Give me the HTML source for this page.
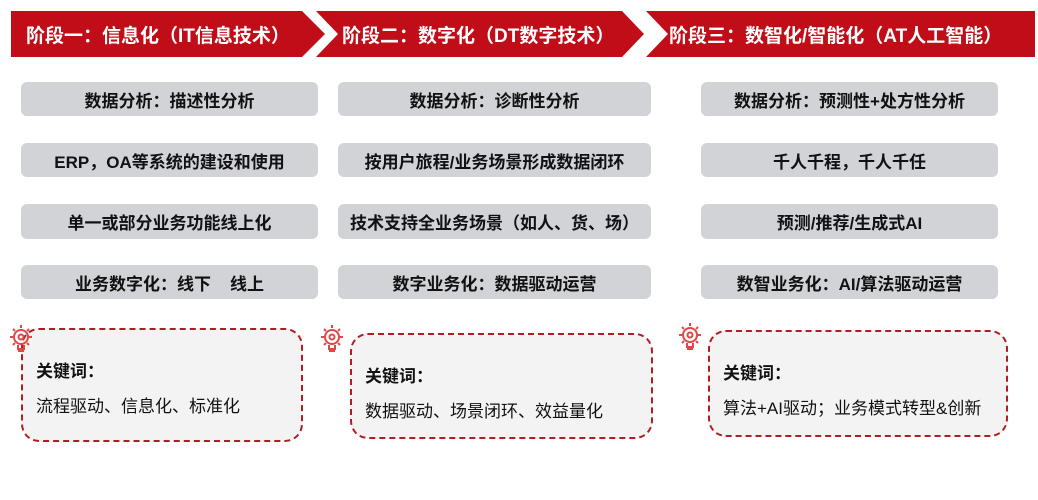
<!DOCTYPE html><html><head><meta charset="utf-8"><style>
body{margin:0;width:1038px;height:500px;background:#fff;position:relative;overflow:hidden;font-family:"Liberation Sans","Noto Sans CJK SC",sans-serif}
.b{position:absolute;background:#d1d3d6;border-radius:6px;display:flex;align-items:center;justify-content:center;font-size:17px;font-weight:bold;color:#111}
.k{position:absolute;border:2px dashed #b01d25;border-radius:18px;background:#f3f3f4;box-sizing:border-box;padding:27px 0 0 13px;font-size:17px;color:#111}
.k b{display:block;margin-bottom:10px}
.t{position:absolute;color:#fff;font-weight:bold;font-size:19px;top:21px}
.ic{position:absolute}
</style></head><body>
<svg width="1038" height="60" style="position:absolute;left:0;top:0">
<polygon points="11,11 302,11 325,34 302,57 11,57" fill="#c00d18"/>
<polygon points="316,11 622,11 644,34 622,57 316,57 338,34" fill="#c00d18"/>
<polygon points="646,11 1035,11 1035,57 646,57 668,34" fill="#c00d18"/>
</svg>
<div class="t" style="left:26px">阶段一：信息化（IT信息技术）</div>
<div class="t" style="left:342px">阶段二：数字化（DT数字技术）</div>
<div class="t" style="left:669px">阶段三：数智化/智能化（AT人工智能）</div>

<div class="b" style="left:21px;top:82px;width:297px;height:34px">数据分析：描述性分析</div>
<div class="b" style="left:21px;top:143px;width:297px;height:34px">ERP，OA等系统的建设和使用</div>
<div class="b" style="left:21px;top:204px;width:297px;height:35px">单一或部分业务功能线上化</div>
<div class="b" style="left:21px;top:265px;width:297px;height:34px">业务数字化：线下&nbsp;&nbsp;&nbsp;&nbsp;线上</div>

<div class="b" style="left:338px;top:82px;width:313px;height:34px">数据分析：诊断性分析</div>
<div class="b" style="left:338px;top:143px;width:313px;height:34px">按用户旅程/业务场景形成数据闭环</div>
<div class="b" style="left:338px;top:204px;width:313px;height:35px">技术支持全业务场景（如人、货、场）</div>
<div class="b" style="left:338px;top:265px;width:313px;height:34px">数字业务化：数据驱动运营</div>

<div class="b" style="left:701px;top:82px;width:297px;height:34px">数据分析：预测性+处方性分析</div>
<div class="b" style="left:701px;top:143px;width:297px;height:34px">千人千程，千人千任</div>
<div class="b" style="left:701px;top:204px;width:297px;height:35px">预测/推荐/生成式AI</div>
<div class="b" style="left:701px;top:265px;width:297px;height:34px">数智业务化：AI/算法驱动运营</div>

<div class="k" style="left:21px;top:328px;width:282px;height:114px"><b>关键词：</b>流程驱动、信息化、标准化</div>
<div class="k" style="left:350px;top:333px;width:303px;height:106px"><b>关键词：</b>数据驱动、场景闭环、效益量化</div>
<div class="k" style="left:708px;top:330px;width:300px;height:107px"><b>关键词：</b>算法+AI驱动；业务模式转型&amp;创新</div>
<svg class="ic" style="left:6px;top:322px" width="30" height="34" viewBox="0 0 30 34"><g stroke="#e04848" stroke-width="2" fill="none"><circle cx="15" cy="15" r="7"/><circle cx="15" cy="15" r="2.5"/><path d="M12 23v4h6v-4M12 29h6M15 3v3M4 15h3M23 15h3M7 7l2 2M23 7l-2 2M7 23l2-2M23 23l-2-2"/></g></svg>
<svg class="ic" style="left:317px;top:322px" width="30" height="34" viewBox="0 0 30 34"><g stroke="#e04848" stroke-width="2" fill="none"><circle cx="15" cy="15" r="7"/><circle cx="15" cy="15" r="2.5"/><path d="M12 23v4h6v-4M12 29h6M15 3v3M4 15h3M23 15h3M7 7l2 2M23 7l-2 2M7 23l2-2M23 23l-2-2"/></g></svg>
<svg class="ic" style="left:675px;top:320px" width="30" height="34" viewBox="0 0 30 34"><g stroke="#e04848" stroke-width="2" fill="none"><circle cx="15" cy="15" r="7"/><circle cx="15" cy="15" r="2.5"/><path d="M12 23v4h6v-4M12 29h6M15 3v3M4 15h3M23 15h3M7 7l2 2M23 7l-2 2M7 23l2-2M23 23l-2-2"/></g></svg>
</body></html>
